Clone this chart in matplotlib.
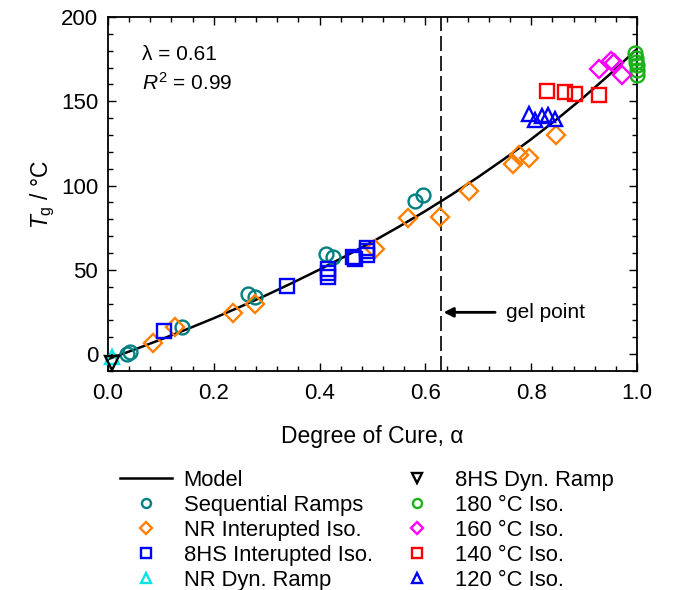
import numpy as np
import matplotlib
matplotlib.use('Agg')
import matplotlib.pyplot as plt

plt.rcParams['font.family'] = ['Liberation Sans', 'DejaVu Sans']
plt.rcParams['mathtext.fontset'] = 'custom'
plt.rcParams['mathtext.rm'] = 'Liberation Sans'
plt.rcParams['mathtext.it'] = 'Liberation Sans:italic'

# model curve
model_x = [0.0, 0.05, 0.10, 0.15, 0.20, 0.25, 0.30, 0.35, 0.40, 0.45, 0.50,
           0.55, 0.60, 0.65, 0.70, 0.75, 0.80, 0.85, 0.90, 0.95, 1.00]
model_y = [-3.0, 2.7, 8.7, 14.9, 21.3, 28.1, 35.1, 42.5, 50.2, 58.3, 66.7,
           75.6, 84.9, 94.7, 105.1, 116.0, 127.5, 139.7, 152.6, 166.4, 181.0]

seq_x = [0.035, 0.042, 0.139, 0.265, 0.278, 0.413, 0.426, 0.580, 0.596]
seq_y = [0.0, 1.2, 16.3, 35.5, 33.8, 59.2, 57.8, 90.8, 94.3]

nr_iso_x = [0.085, 0.126, 0.236, 0.278, 0.505, 0.568, 0.628, 0.683, 0.765, 0.776, 0.796, 0.846]
nr_iso_y = [6.9, 16.2, 24.6, 29.8, 62.5, 80.5, 81.5, 97.0, 112.8, 117.9, 116.3, 129.8]

hs_iso_x = [0.105, 0.339, 0.415, 0.415, 0.415, 0.464, 0.466, 0.489, 0.489, 0.489]
hs_iso_y = [13.8, 40.6, 50.5, 48.0, 46.0, 57.5, 56.5, 63.0, 61.0, 59.0]

nr_dyn_x = [0.007]
nr_dyn_y = [-1.5]

hs_dyn_x = [0.007]
hs_dyn_y = [-5.0]

iso180_x = [0.997, 0.999, 1.0, 1.0, 1.0, 0.999]
iso180_y = [178.9, 175.5, 171.6, 168.6, 165.7, 173.5]

iso160_x = [0.929, 0.950, 0.956, 0.971]
iso160_y = [169.0, 174.0, 172.6, 165.3]

iso140_x = [0.829, 0.863, 0.883, 0.929]
iso140_y = [156.2, 155.8, 154.4, 153.6]

iso120_x = [0.795, 0.807, 0.821, 0.832, 0.845]
iso120_y = [142.6, 139.0, 141.0, 142.0, 139.4]

gel_x = 0.629

fig = plt.figure(figsize=(6.73, 5.9), dpi=100)
ax = fig.add_axes([0.1605, 0.3712, 0.786, 0.6])

ax.plot(model_x, model_y, 'k-', lw=1.8, zorder=2, label='Model')

ms = 10
mew = 1.7
def pts(x, y, m, c, lab, s=ms):
    ax.plot(x, y, ls='none', marker=m, ms=s, mfc='none', mec=c, mew=mew,
            zorder=3, label=lab, clip_on=False)

pts(seq_x, seq_y, 'o', '#008080', 'Sequential Ramps')
pts(nr_iso_x, nr_iso_y, 'D', '#ff8000', 'NR Interupted Iso.', 9)
pts(hs_iso_x, hs_iso_y, 's', '#0000ff', '8HS Interupted Iso.')
pts(nr_dyn_x, nr_dyn_y, '^', '#00e5e5', 'NR Dyn. Ramp')
pts(hs_dyn_x, hs_dyn_y, 'v', 'k', '8HS Dyn. Ramp')
pts(iso180_x, iso180_y, 'o', '#19b219', '180 °C Iso.')
pts(iso160_x, iso160_y, 'D', '#ff00ff', '160 °C Iso.', 9)
pts(iso140_x, iso140_y, 's', '#ff0000', '140 °C Iso.')
pts(iso120_x, iso120_y, '^', '#0000ff', '120 °C Iso.')

ax.axvline(gel_x, color='k', lw=1.2, ls=(0, (9, 3)), zorder=1)
ax.annotate('', xy=(gel_x, 24.8), xytext=(0.737, 24.8),
            arrowprops=dict(arrowstyle='-|>', color='k', lw=2, mutation_scale=14))
ax.text(0.752, 24.8, 'gel point', fontsize=15, va='center', ha='left')

ax.text(0.065, 177.5, 'λ = 0.61', fontsize=15, va='center', ha='left')
ax.text(0.065, 161, r'$R^2$ = 0.99', fontsize=15, va='center', ha='left')

ax.set_xlim(0, 1.0)
ax.set_ylim(-10, 200)
ax.set_xticks(np.arange(0, 1.01, 0.2))
ax.set_xticks(np.arange(0, 1.001, 0.04), minor=True)
ax.set_yticks(np.arange(0, 201, 50))
ax.set_yticks(np.arange(-10, 201, 10), minor=True)
ax.set_xticklabels(['0.0', '0.2', '0.4', '0.6', '0.8', '1.0'])
ax.tick_params(which='both', direction='in', top=True, right=True, width=1.0)
ax.tick_params(which='major', length=6, labelsize=16)
ax.tick_params(axis='x', which='major', pad=9)
ax.tick_params(axis='y', which='major', pad=7)
ax.tick_params(which='minor', length=3.5)
for s in ax.spines.values():
    s.set_linewidth(1.3)

ax.set_xlabel('Degree of Cure, α', fontsize=16.5, labelpad=15)
ax.set_ylabel(r'$T_{\mathrm{g}}$ / °C', fontsize=16.5, labelpad=3)

h, l = ax.get_legend_handles_labels()
fig.legend(h, l, loc='upper left', bbox_to_anchor=(0.178, 0.2034), ncol=2,
           frameon=False, fontsize=15.8, markerscale=0.65, handlelength=2.36,
           handletextpad=0.55, columnspacing=0.86, labelspacing=0.18,
           borderpad=0, borderaxespad=0)

fig.savefig('out.png', dpi=100)
